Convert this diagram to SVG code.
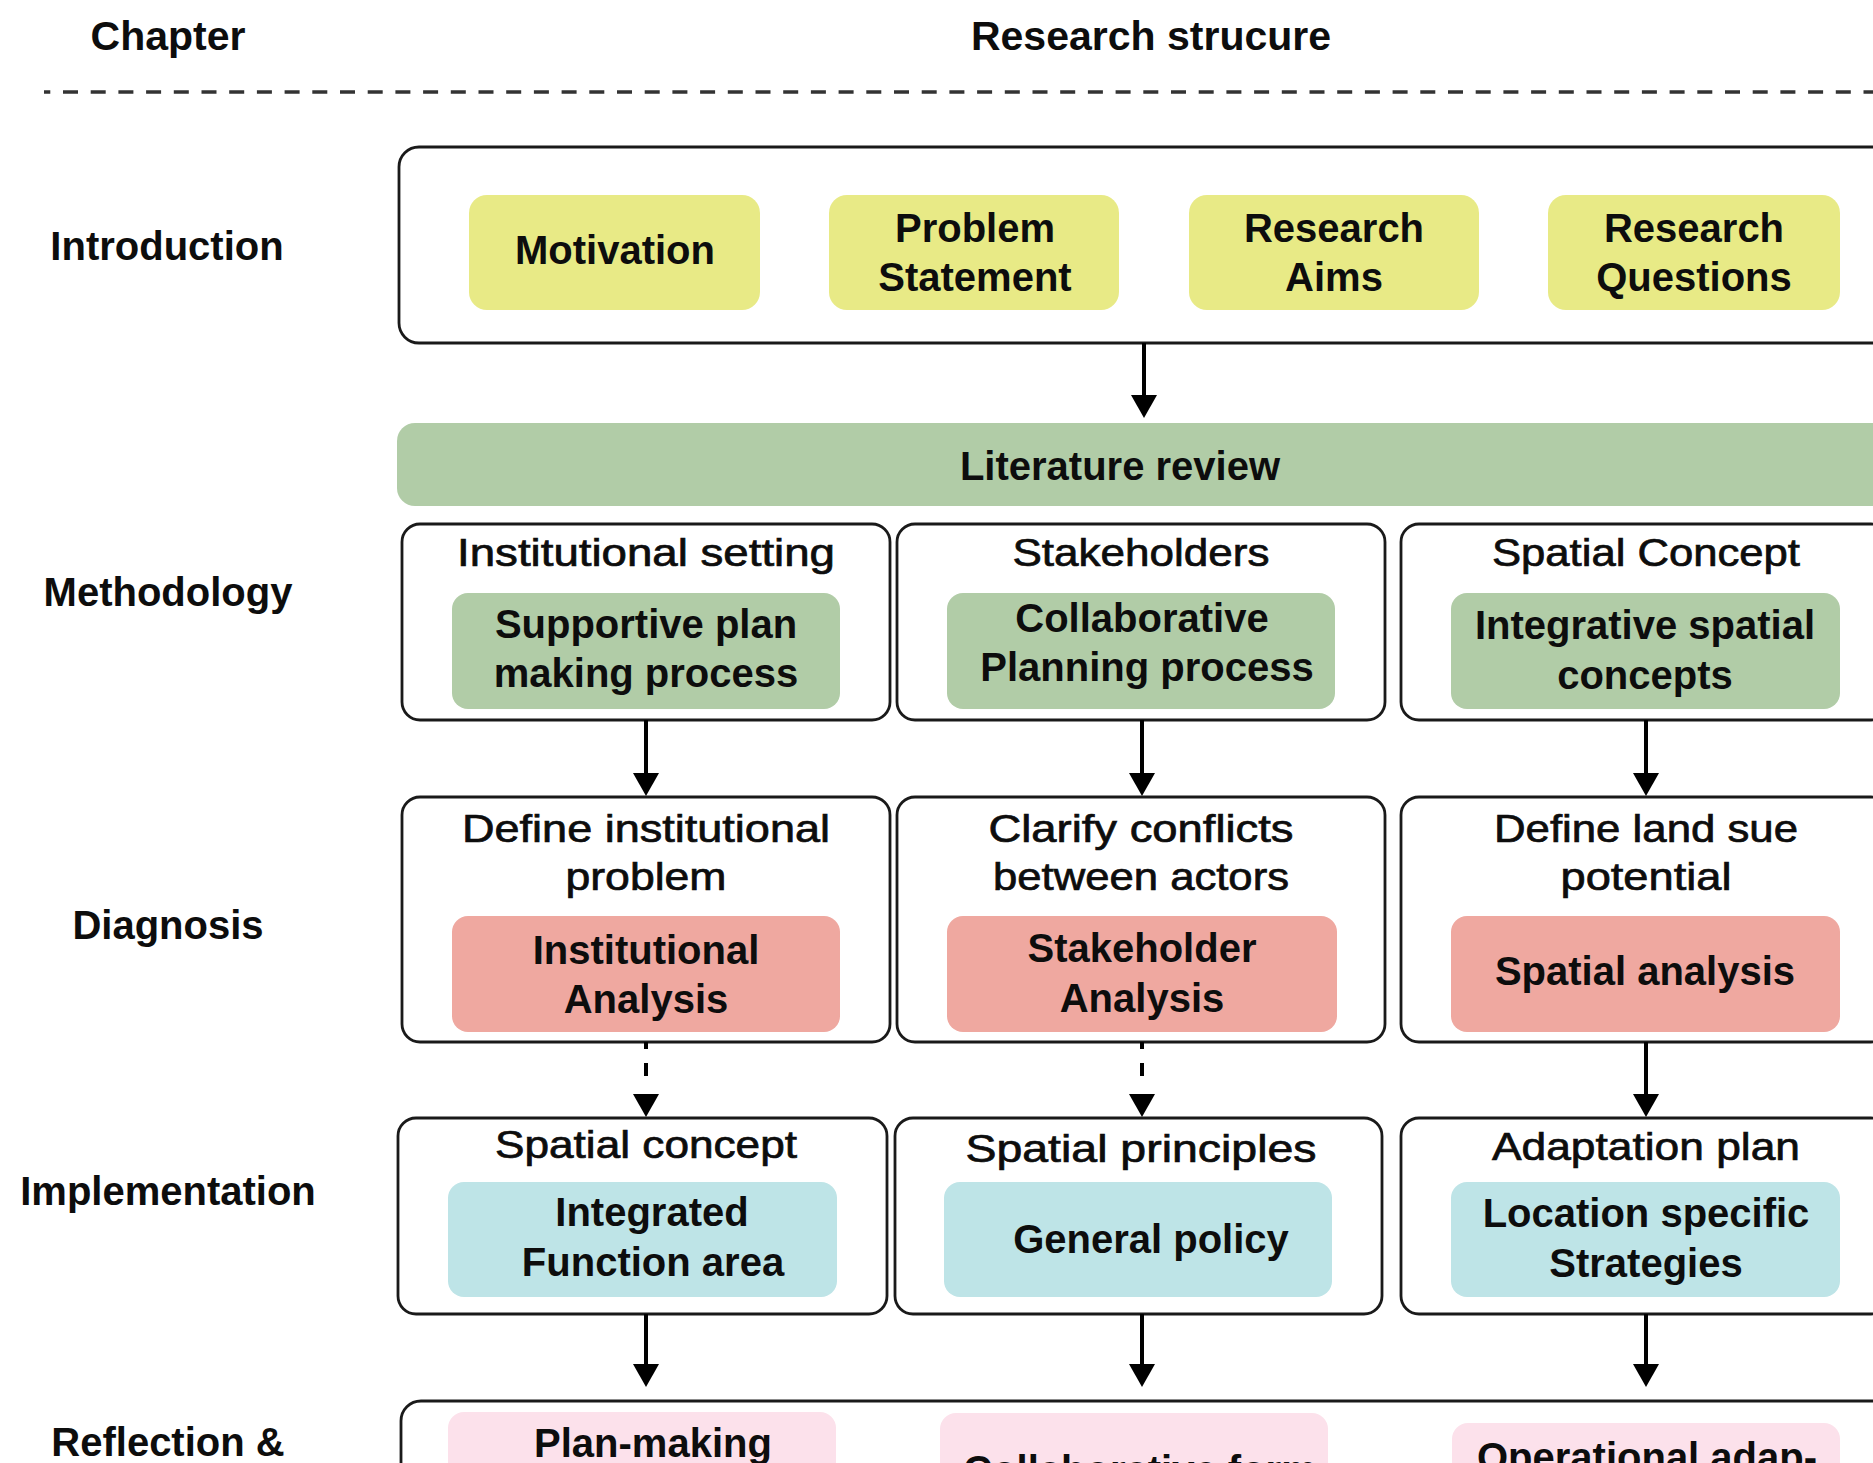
<svg xmlns="http://www.w3.org/2000/svg" width="1873" height="1463" viewBox="0 0 1873 1463">
<defs>
<style>
text{font-family:"Liberation Sans",Arial,Helvetica,sans-serif;fill:#0d0d0d;text-anchor:middle}
.b{font-weight:bold;font-size:40px}
.h{font-weight:bold;font-size:41px}
.t{font-weight:normal;font-size:38px;stroke:#0d0d0d;stroke-width:0.7}
.box{fill:#fff;stroke:#1a1a1a;stroke-width:2.8}
.yel{fill:#E8EA86}
.grn{fill:#B1CCA7}
.red{fill:#EFA8A0}
.cyn{fill:#BEE4E7}
.pnk{fill:#FCE1EB}
.arr{stroke:#000;stroke-width:4;fill:none;marker-end:url(#ah)}
.dash{stroke-dasharray:7 14 13 60}
</style>
<marker id="ah" markerUnits="userSpaceOnUse" viewBox="0 0 23 26" markerWidth="23" markerHeight="26" refX="15" refY="13" orient="auto">
<path d="M0,0 L23,13 L0,26 Z" fill="#000"/>
</marker>
</defs>
<rect width="1873" height="1463" fill="#fff"/>

<g id="header">
<text class="h" x="168" y="50">Chapter</text>
<text class="h" x="1151" y="50">Research strucure</text>
<line x1="44" y1="92" x2="1873" y2="92" stroke="#333" stroke-width="3.3" stroke-dasharray="15 12.7" stroke-dashoffset="8.7"/>
</g>

<g id="row-labels">
<text class="b" x="167" y="260">Introduction</text>
<text class="b" x="168" y="606">Methodology</text>
<text class="b" x="168" y="939">Diagnosis</text>
<text class="b" x="168" y="1205">Implementation</text>
<text class="b" x="168" y="1456">Reflection &amp;</text>
</g>

<g id="introduction">
<rect class="box" x="399" y="147" width="1540" height="196" rx="20"/>
<g id="motivation"><rect class="yel" x="469" y="195" width="291" height="115" rx="18"/><text class="b" x="615" y="264">Motivation</text></g>
<g id="problem-statement"><rect class="yel" x="829" y="195" width="290" height="115" rx="18"/><text class="b" x="975" y="242">Problem</text><text class="b" x="975" y="291">Statement</text></g>
<g id="research-aims"><rect class="yel" x="1189" y="195" width="290" height="115" rx="18"/><text class="b" x="1334" y="242">Research</text><text class="b" x="1334" y="291">Aims</text></g>
<g id="research-questions"><rect class="yel" x="1548" y="195" width="292" height="115" rx="18"/><text class="b" x="1694" y="242">Research</text><text class="b" x="1694" y="291">Questions</text></g>
</g>

<g id="literature-review">
<rect class="grn" x="397" y="423" width="1540" height="83" rx="18"/>
<text class="b" x="1120" y="480">Literature review</text>
</g>

<g id="institutional-setting">
<rect class="box" x="402" y="524" width="488" height="196" rx="18"/>
<text class="t" x="646" y="566" textLength="378" lengthAdjust="spacingAndGlyphs">Institutional setting</text>
<rect class="grn" x="452" y="593" width="388" height="116" rx="16"/>
<text class="b" x="646" y="638">Supportive plan</text>
<text class="b" x="646" y="687">making process</text>
</g>
<g id="stakeholders">
<rect class="box" x="897" y="524" width="488" height="196" rx="18"/>
<text class="t" x="1141" y="566" textLength="257" lengthAdjust="spacingAndGlyphs">Stakeholders</text>
<rect class="grn" x="947" y="593" width="388" height="116" rx="16"/>
<text class="b" x="1142" y="632">Collaborative</text>
<text class="b" x="1147" y="681">Planning process</text>
</g>
<g id="spatial-concept-m">
<rect class="box" x="1401" y="524" width="488" height="196" rx="18"/>
<text class="t" x="1646" y="566" textLength="308" lengthAdjust="spacingAndGlyphs">Spatial Concept</text>
<rect class="grn" x="1451" y="593" width="389" height="116" rx="16"/>
<text class="b" x="1645" y="639">Integrative spatial</text>
<text class="b" x="1645" y="689">concepts</text>
</g>

<g id="institutional-problem">
<rect class="box" x="402" y="797" width="488" height="245" rx="18"/>
<text class="t" x="646" y="842" textLength="368" lengthAdjust="spacingAndGlyphs">Define institutional</text>
<text class="t" x="646" y="890" textLength="161" lengthAdjust="spacingAndGlyphs">problem</text>
<rect class="red" x="452" y="916" width="388" height="116" rx="16"/>
<text class="b" x="646" y="964">Institutional</text>
<text class="b" x="646" y="1013">Analysis</text>
</g>
<g id="conflicts">
<rect class="box" x="897" y="797" width="488" height="245" rx="18"/>
<text class="t" x="1141" y="842" textLength="305" lengthAdjust="spacingAndGlyphs">Clarify conflicts</text>
<text class="t" x="1141" y="890" textLength="296" lengthAdjust="spacingAndGlyphs">between actors</text>
<rect class="red" x="947" y="916" width="390" height="116" rx="16"/>
<text class="b" x="1142" y="962">Stakeholder</text>
<text class="b" x="1142" y="1012">Analysis</text>
</g>
<g id="land-use">
<rect class="box" x="1401" y="797" width="488" height="245" rx="18"/>
<text class="t" x="1646" y="842" textLength="304" lengthAdjust="spacingAndGlyphs">Define land sue</text>
<text class="t" x="1646" y="890" textLength="171" lengthAdjust="spacingAndGlyphs">potential</text>
<rect class="red" x="1451" y="916" width="389" height="116" rx="16"/>
<text class="b" x="1645" y="985">Spatial analysis</text>
</g>

<g id="spatial-concept-i">
<rect class="box" x="398" y="1118" width="489" height="196" rx="18"/>
<text class="t" x="646" y="1158" textLength="302" lengthAdjust="spacingAndGlyphs">Spatial concept</text>
<rect class="cyn" x="448" y="1182" width="389" height="115" rx="16"/>
<text class="b" x="652" y="1226">Integrated</text>
<text class="b" x="653" y="1276">Function area</text>
</g>
<g id="spatial-principles">
<rect class="box" x="895" y="1118" width="487" height="196" rx="18"/>
<text class="t" x="1141" y="1162" textLength="351" lengthAdjust="spacingAndGlyphs">Spatial principles</text>
<rect class="cyn" x="944" y="1182" width="388" height="115" rx="16"/>
<text class="b" x="1151" y="1253">General policy</text>
</g>
<g id="adaptation-plan">
<rect class="box" x="1401" y="1118" width="488" height="196" rx="18"/>
<text class="t" x="1646" y="1160" textLength="308" lengthAdjust="spacingAndGlyphs">Adaptation plan</text>
<rect class="cyn" x="1451" y="1182" width="389" height="115" rx="16"/>
<text class="b" x="1646" y="1227">Location specific</text>
<text class="b" x="1646" y="1277">Strategies</text>
</g>

<g id="reflection">
<rect class="box" x="401" y="1401" width="1540" height="200" rx="20"/>
<g id="plan-making"><rect class="pnk" x="448" y="1412" width="388" height="115" rx="16"/><text class="b" x="653" y="1457">Plan-making</text></g>
<g id="collaborative-form"><rect class="pnk" x="940" y="1413" width="388" height="115" rx="16"/><text class="b" x="1140" y="1484">Collaborative form</text></g>
<g id="operational"><rect class="pnk" x="1452" y="1423" width="388" height="115" rx="16"/><text class="b" x="1647" y="1471">Operational adap-</text></g>
</g>

<g id="connectors">
<path class="arr" d="M1144,343 V410"/>
<path class="arr" d="M646,720 V788"/>
<path class="arr" d="M1142,720 V788"/>
<path class="arr" d="M1646,720 V788"/>
<path class="arr dash" d="M646,1042 V1109"/>
<path class="arr dash" d="M1142,1042 V1109"/>
<path class="arr" d="M1646,1042 V1109"/>
<path class="arr" d="M646,1314 V1379"/>
<path class="arr" d="M1142,1314 V1379"/>
<path class="arr" d="M1646,1314 V1379"/>
</g>
</svg>
